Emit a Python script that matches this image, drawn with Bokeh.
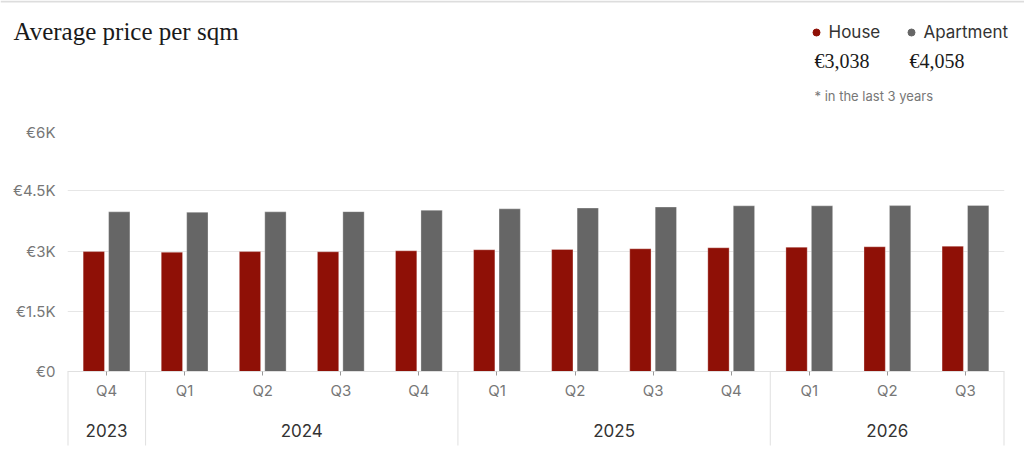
from bokeh.plotting import figure
from bokeh.layouts import column
from bokeh.models import (ColumnDataSource, FactorRange, Range1d, FixedTicker, CategoricalAxis)
from bokeh.core.properties import value
from bokeh.transform import dodge
from bokeh.embed import file_html
from bokeh.resources import INLINE

# ---- data ----
years = ["2023", "2024", "2024", "2024", "2024", "2025", "2025", "2025", "2025", "2026", "2026", "2026"]
quarters = ["Q4", "Q1", "Q2", "Q3", "Q4", "Q1", "Q2", "Q3", "Q4", "Q1", "Q2", "Q3"]
house = [2985, 2970, 2985, 2980, 3005, 3030, 3040, 3055, 3080, 3095, 3105, 3120]
apartment = [3975, 3965, 3975, 3980, 4015, 4050, 4070, 4095, 4125, 4125, 4130, 4135]
y_ticks = [0, 1500, 3000, 4500, 6000]
y_tick_labels = ["€0", "€1.5K", "€3K", "€4.5K", "€6K"]
series_names = ["House", "Apartment"]
series_totals = ["€3,038", "€4,058"]
title_text = "Average price per sqm"
note_text = "* in the last 3 years"

RED = "#8f1006"
GRAY = "#666666"
SANS = "Inter"
SERIF = "Liberation Serif"
SEP = "#e0e0e0"

# ---------------- header (title + legend) ----------------
h = figure(width=1024, height=122, output_backend="svg", toolbar_location=None,
           x_range=Range1d(0, 1024), y_range=Range1d(122, 0),
           x_axis_type=None, y_axis_type=None, min_border=0)
h.frame_align = False
h.outline_line_color = None
h.grid.grid_line_color = None
h.segment(x0=0, x1=1024, y0=1, y1=1, line_color="#dddddd", line_width=2)
h.text(x=13, y=31.3, text=[title_text], text_font=value(SERIF), text_font_size="25px",
       text_color="#1a1a1a", text_baseline="middle")
leg_src = ColumnDataSource(dict(name=series_names, total=series_totals, color=[RED, GRAY],
                                lx=[816, 911]))
h.scatter(x="lx", y=32, size=7, color="color", source=leg_src)
h.text(x=dodge("lx", 12, range=h.x_range), y=31.5, text="name", source=leg_src,
       text_font=value(SANS), text_font_size="17px", text_color="#333333",
       text_baseline="middle")
h.text(x=dodge("lx", -2, range=h.x_range), y=60.5, text="total", source=leg_src,
       text_font=value(SERIF), text_font_size="20px", text_color="#1a1a1a",
       text_baseline="middle")
h.text(x=814, y=95, text=[note_text], text_font=value(SANS), text_font_size="13px",
       text_color="#777777", text_baseline="middle")

# ---------------- chart ----------------
factors = list(zip(years, quarters))
src = ColumnDataSource(dict(x=factors, house=house, apartment=apartment))

Y_PER_PX = 6000 / 241.0
p = figure(width=1024, height=343, output_backend="svg", toolbar_location=None,
           x_range=FactorRange(*factors, group_padding=0, subgroup_padding=0, range_padding=0),
           y_range=Range1d(-94 * Y_PER_PX, 6000),
           min_border_left=67, min_border_right=20, min_border_top=8, min_border_bottom=0)
p.frame_align = False
p.outline_line_color = None

p.vbar(x=dodge("x", -0.163, range=p.x_range), top="house", width=0.273, source=src,
       fill_color=RED, line_color="white", line_alpha=0.3, line_width=1)
p.vbar(x=dodge("x", 0.163, range=p.x_range), top="apartment", width=0.273, source=src,
       fill_color=GRAY, line_color="white", line_alpha=0.3, line_width=1)

# separators between year groups (and at both ends)
bounds = [0] + [i for i in range(1, len(years)) if years[i] != years[i - 1]] + [len(years)]
sep_src = ColumnDataSource(dict(x=bounds, w=[2 if b in (0, len(years)) else 1 for b in bounds]))
p.segment(x0="x", x1="x", y0=0, y1=-74 * Y_PER_PX, line_color=SEP, line_width="w", source=sep_src)

# y axis
p.yaxis.ticker = FixedTicker(ticks=y_ticks)
p.yaxis.major_label_overrides = {t: l for t, l in zip(y_ticks, y_tick_labels)}
p.yaxis.axis_line_color = None
p.yaxis.major_tick_line_color = None
p.yaxis.major_tick_out = 0
p.yaxis.major_tick_in = 0
p.yaxis.minor_tick_line_color = None
p.yaxis.minor_tick_out = 0
p.yaxis.major_label_standoff = 12
p.yaxis.major_label_text_font = SANS
p.yaxis.major_label_text_font_size = "15px"
p.yaxis.major_label_text_color = "#777777"
p.ygrid.grid_line_color = "#e6e6e6"
p.xgrid.grid_line_color = None

# x axis: quarters
xa = p.xaxis[0]
xa.fixed_location = 0
xa.axis_line_color = SEP
xa.major_tick_in = 0
xa.major_tick_out = 4
xa.major_tick_line_color = "#999999"
xa.major_label_text_font = SANS
xa.major_label_text_font_size = "15px"
xa.major_label_text_color = "#777777"
xa.major_label_standoff = 5
xa.group_text_font_size = "17px"
xa.group_text_color = None
xa.group_text_alpha = 0
xa.separator_line_color = None

# x axis: years (second axis, group labels only)
ya = CategoricalAxis(fixed_location=0)
ya.axis_line_color = None
ya.major_tick_line_color = None
ya.major_tick_in = 0
ya.major_tick_out = 0
ya.major_label_text_font = SANS
ya.major_label_text_font_size = "15px"
ya.major_label_text_color = None
ya.major_label_standoff = 52
ya.group_text_font = SANS
ya.group_text_font_size = "17px"
ya.group_text_color = "#333333"
ya.group_text_font_style = "normal"
ya.separator_line_color = None
p.add_layout(ya, "below")

layout = column(h, p, spacing=0)
open("out.html", "w").write(file_html(layout, INLINE))
